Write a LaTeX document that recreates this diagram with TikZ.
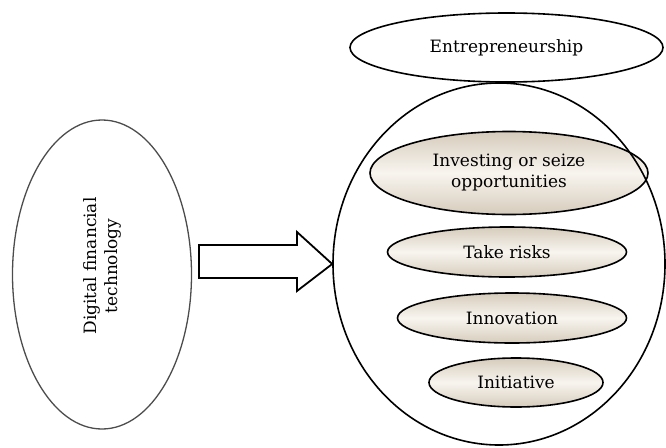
\documentclass[tikz,border=0pt]{standalone}
\usepackage{fontspec}
\setmainfont{DejaVu Serif}
\usetikzlibrary{shapes.geometric}
\definecolor{rimbeige}{HTML}{D6CCBC}
\definecolor{midcream}{HTML}{F8F5EF}
\tikzset{
  labelfont/.style={font=\fontsize{17}{21}\selectfont},
  oval/.style={ellipse, draw=black, line width=1.6pt, inner sep=0pt, align=center, labelfont},
  trait/.style={oval, top color=rimbeige, bottom color=rimbeige, middle color=midcream},
  blockarrow/.style={draw=black, line width=1.8pt, fill=white, line join=miter}
}
\begin{document}
\begin{tikzpicture}[x=1pt, y=-1pt]
\useasboundingbox (0,0) rectangle (666,447);

% left cause
\node[oval, draw=black!70, line width=1.3pt, minimum width=179pt, minimum height=309pt]
  (dft) at (102,274.5) {};
\node[rotate=90, align=center, labelfont] (dftlabel) at (102,266)
  {Digital financial\\technology};

% traits of entrepreneurship
\node[trait, minimum width=278pt, minimum height=83pt] (invest) at (509,173)
  {Investing or seize\\opportunities};
\node[trait, minimum width=239pt, minimum height=50pt] (risk) at (507,252) {Take risks};
\node[trait, minimum width=229pt, minimum height=50pt] (innov) at (512,318) {Innovation};
\node[trait, minimum width=174pt, minimum height=49pt] (init) at (516,382.5) {Initiative};

% enclosing circle and its title
\node[oval, minimum width=332pt, minimum height=362pt] (entre) at (499,264) {};
\node[oval, fill=white, minimum width=313pt, minimum height=69pt] (title) at (506.5,47.5)
  {Entrepreneurship};

% block arrow from cause to effect
\coordinate (tail) at (199,261.5);
\draw[blockarrow] (tail |- 0,245) -- (297,245) -- (297,232) -- (entre.west)
  -- (297,291) -- (297,278) -- (tail |- 0,278) -- cycle;
\end{tikzpicture}
\end{document}
